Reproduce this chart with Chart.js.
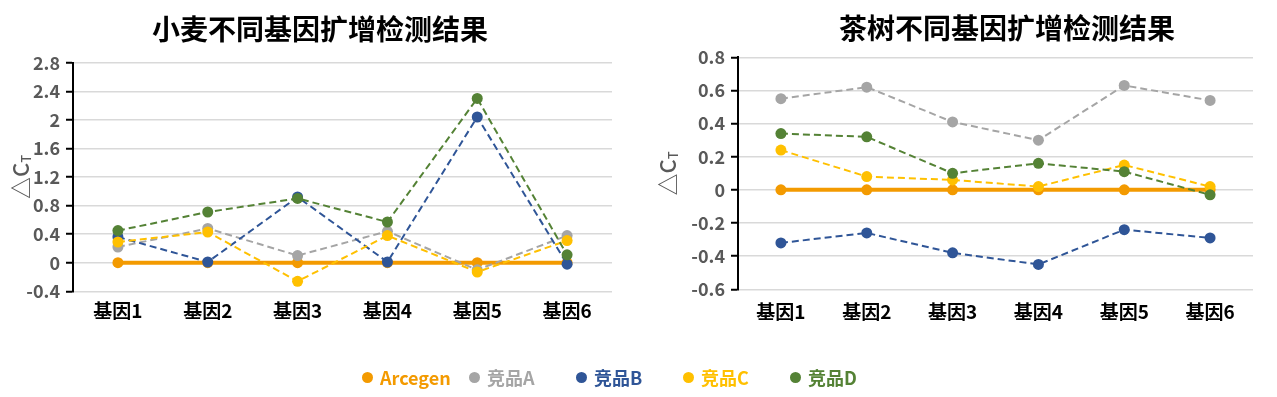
<!DOCTYPE html>
<html>
<head>
<meta charset="utf-8">
<script src="https://cdn.jsdelivr.net/npm/chart.js@4/dist/chart.umd.min.js"></script>
<style>
  body { margin: 0; background: #fff; width: 1277px; height: 397px; position: relative; overflow: hidden; }
  canvas { position: absolute; top: 0; }
  #wheat { left: 0; }
  #tea { left: 640px; }
  #legend { position: absolute; left: 362px; top: 366px; display: flex; font-family: "Noto Sans CJK SC", sans-serif; font-weight: bold; font-size: 18px; }
  #legend .item { width: 107px; display: flex; align-items: center; line-height: 22px; }
  #legend .dot { width: 11px; height: 11px; border-radius: 50%; margin-right: 7px; }
</style>
</head>
<body>
<canvas id="wheat" width="640" height="397"></canvas>
<canvas id="tea" width="637" height="397"></canvas>
<div id="legend"></div>
<script>
// genes on the x axis
const categories = ["基因1", "基因2", "基因3", "基因4", "基因5", "基因6"];
const seriesNames = ["Arcegen", "竞品A", "竞品B", "竞品C", "竞品D"];
const seriesColors = ["#F39A00", "#A5A5A5", "#2F5597", "#FFC000", "#548235"];

// 小麦
const wheatArcegen = [0, 0, 0, 0, 0, 0];
const wheatA = [0.22, 0.48, 0.10, 0.44, -0.10, 0.38];
const wheatB = [0.36, 0.01, 0.92, 0.01, 2.04, -0.02];
const wheatC = [0.29, 0.43, -0.26, 0.38, -0.13, 0.31];
const wheatD = [0.45, 0.71, 0.90, 0.57, 2.30, 0.11];
const wheatTicks = [-0.4, 0, 0.4, 0.8, 1.2, 1.6, 2, 2.4, 2.8];

// 茶树
const teaArcegen = [0, 0, 0, 0, 0, 0];
const teaA = [0.55, 0.62, 0.41, 0.30, 0.63, 0.54];
const teaB = [-0.32, -0.26, -0.38, -0.45, -0.24, -0.29];
const teaC = [0.24, 0.08, 0.06, 0.02, 0.15, 0.02];
const teaD = [0.34, 0.32, 0.10, 0.16, 0.11, -0.03];
const teaTicks = [-0.6, -0.4, -0.2, 0, 0.2, 0.4, 0.6, 0.8];

const FONT = "'Noto Sans CJK SC', sans-serif";

// title + rotated "△CT" axis title
const textPlugin = {
  id: "texts",
  afterDraw(chart, args, opts) {
    const ctx = chart.ctx;
    const area = chart.chartArea;
    ctx.save();
    ctx.fillStyle = "#000";
    ctx.font = "bold 28px " + FONT;
    ctx.textAlign = "center";
    ctx.textBaseline = "middle";
    ctx.fillText(opts.title, opts.titleX, opts.titleY);

    const yMid = (area.top + area.bottom) / 2;
    ctx.translate(opts.axisX, yMid);
    ctx.rotate(-Math.PI / 2);
    ctx.fillStyle = "#595959";
    ctx.textAlign = "left";
    ctx.font = "500 22px " + FONT;
    const main = "△C";
    const w1 = ctx.measureText(main).width;
    ctx.font = "500 13px " + FONT;
    const w2 = ctx.measureText("T").width;
    const x0 = -(w1 + w2) / 2;
    ctx.font = "500 22px " + FONT;
    ctx.fillText(main, x0, 0);
    ctx.font = "500 13px " + FONT;
    ctx.fillText("T", x0 + w1, 5);
    ctx.restore();
  }
};

function makeDatasets(values) {
  return values.map((v, i) => {
    const base = i === 0;
    return {
      label: seriesNames[i],
      data: v,
      borderColor: seriesColors[i],
      backgroundColor: seriesColors[i],
      borderWidth: base ? 4 : 2,
      borderDash: base ? [] : [7, 4],
      pointRadius: 5.5,
      pointHoverRadius: 5.5,
      pointBorderWidth: 0,
      tension: 0,
      order: values.length - i
    };
  });
}

function makeChart(id, values, ticks, lay) {
  new Chart(document.getElementById(id), {
    type: "line",
    data: { labels: categories, datasets: makeDatasets(values) },
    plugins: [textPlugin],
    options: {
      responsive: false,
      animation: false,
      layout: { padding: { left: 0, right: lay.padRight, top: lay.top, bottom: lay.padBottom } },
      plugins: {
        legend: { display: false },
        tooltip: { enabled: false },
        texts: { title: lay.title, titleX: lay.titleX, titleY: lay.titleY, axisX: lay.axisX }
      },
      scales: {
        x: {
          offset: true,
          grid: { display: false, drawTicks: false },
          border: { display: false },
          ticks: { color: "#000", padding: lay.xPad, font: { family: FONT, size: 19, weight: "bold" } },
          afterFit(scale) { scale.height = 40; }
        },
        y: {
          min: ticks[0],
          max: ticks[ticks.length - 1],
          afterBuildTicks(scale) { scale.ticks = ticks.map(v => ({ value: v })); },
          afterFit(scale) { scale.width = lay.left; },
          grid: { color: "#D9D9D9", lineWidth: 1.5, tickColor: "#000", tickLength: 7, tickWidth: 2 },
          border: { color: "#000", width: 2 },
          ticks: {
            color: "#595959",
            padding: 6,
            font: { family: FONT, size: 18, weight: "bold" },
            callback: v => String(v)
          }
        }
      }
    }
  });
}

makeChart("wheat", [wheatArcegen, wheatA, wheatB, wheatC, wheatD], wheatTicks, {
  title: "小麦不同基因扩增检测结果", titleX: 320, titleY: 29,
  left: 73, padRight: 28, top: 62.7, padBottom: 65.7, xPad: 8, axisX: 21
});

makeChart("tea", [teaArcegen, teaA, teaB, teaC, teaD], teaTicks, {
  title: "茶树不同基因扩增检测结果", titleX: 367, titleY: 28,
  left: 98, padRight: 24, top: 57.3, padBottom: 67.7, xPad: 11, axisX: 28
});

// shared legend under both charts
const legend = document.getElementById("legend");
seriesNames.forEach((name, i) => {
  const item = document.createElement("div");
  item.className = "item";
  item.style.color = seriesColors[i];
  const dot = document.createElement("span");
  dot.className = "dot";
  dot.style.background = seriesColors[i];
  item.appendChild(dot);
  item.appendChild(document.createTextNode(name));
  legend.appendChild(item);
});
</script>
</body>
</html>
